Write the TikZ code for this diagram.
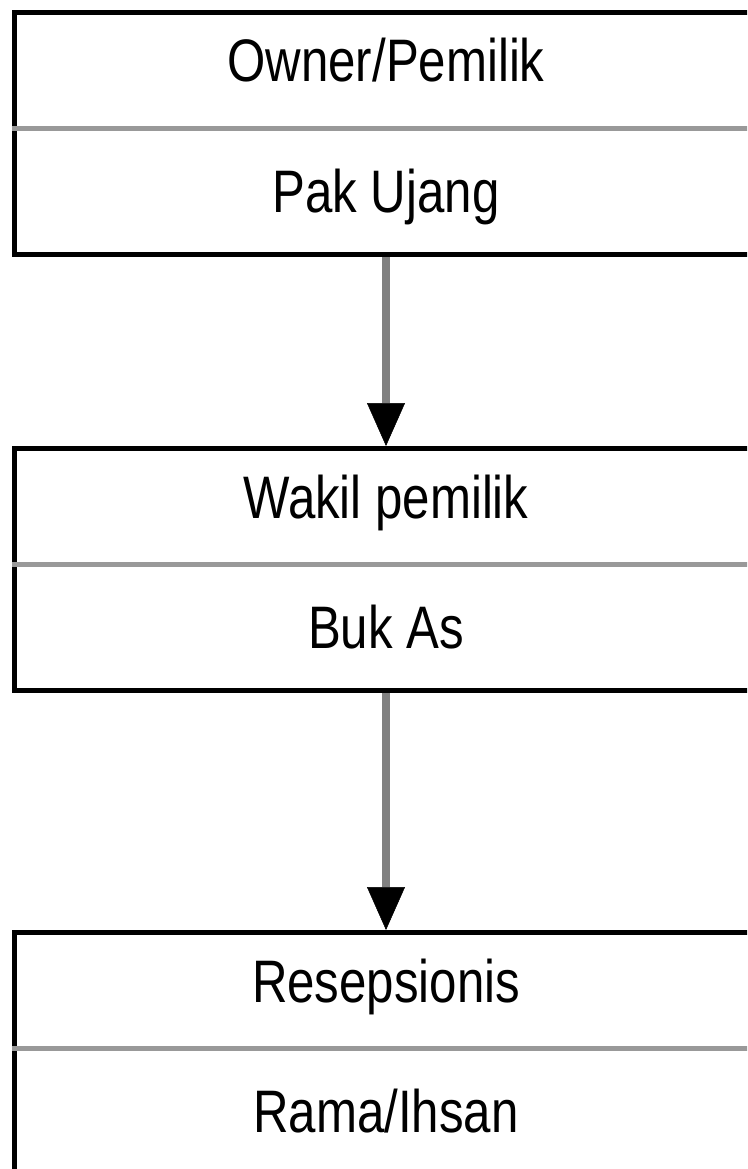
\documentclass[tikz,border=0pt]{standalone}
\usepackage{fontspec}
\setmainfont{Liberation Sans}[FakeStretch=0.82]
\usetikzlibrary{arrows.meta}

\definecolor{garis}{HTML}{999999}
\definecolor{panahabu}{HTML}{808080}

\tikzset{
  kotak/.style={draw=black, line width=5pt, minimum width=744pt, minimum height=242pt, inner sep=0pt},
  pemisah/.style={draw=garis, line width=4.5pt},
  tulisan/.style={anchor=base, inner sep=0pt, font=\fontsize{60}{72}\selectfont},
  panah/.style={draw=panahabu, line width=8pt, -{Triangle[length=43pt, width=38pt, line width=0.5pt, black]}}
}

\begin{document}
\begin{tikzpicture}[x=1pt, y=-1pt]

    \useasboundingbox (0,0) rectangle (747,1169);
    \clip (0,0) rectangle (747,1169);

% kotak-kotak
\node[kotak] (owner) at (386,133.5) {};
\node[kotak] (wakil) at (386,569.5) {};
\node[kotak] (resepsionis) at (386,1053.5) {};

% garis pemisah
\draw[pemisah] ([yshift=5pt]owner.west) -- ([yshift=5pt]owner.east);
\draw[pemisah] ([yshift=5pt]wakil.west) -- ([yshift=5pt]wakil.east);
\draw[pemisah] ([yshift=5pt]resepsionis.west) -- ([yshift=5pt]resepsionis.east);

% tulisan
\node[tulisan] (owner-judul) at ([yshift=51.5pt]owner.center) {Owner/Pemilik};
\node[tulisan] (owner-nama) at ([yshift=-79pt]owner.center) {Pak Ujang};
\node[tulisan] (wakil-judul) at ([yshift=51.5pt]wakil.center) {Wakil pemilik};
\node[tulisan] (wakil-nama) at ([yshift=-79pt]wakil.center) {Buk As};
\node[tulisan] (resepsionis-judul) at ([yshift=51.5pt]resepsionis.center) {Resepsionis};
\node[tulisan] (resepsionis-nama) at ([yshift=-79pt]resepsionis.center) {Rama/Ihsan};

% panah
\draw[panah] (owner) -- (wakil);
\draw[panah] (wakil) -- (resepsionis);

\end{tikzpicture}
\end{document}
